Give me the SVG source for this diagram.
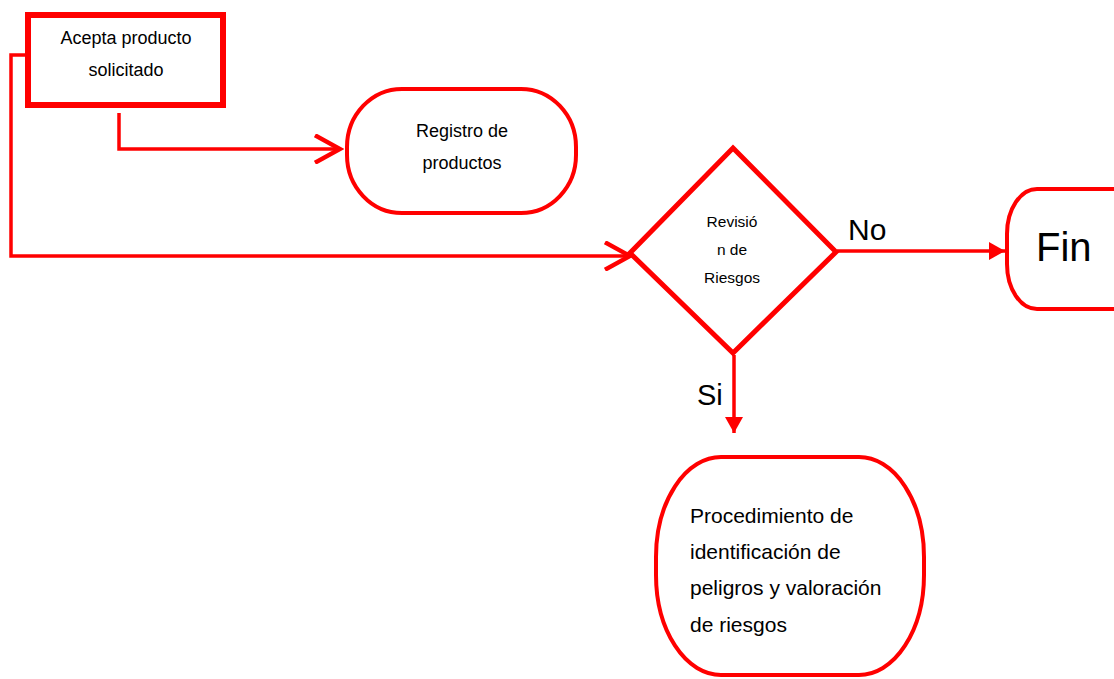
<svg xmlns="http://www.w3.org/2000/svg" width="1114" height="679" viewBox="0 0 1114 679">
<style>
.shape{fill:#fff;stroke:#ff0000}
.conn{fill:none;stroke:#ff0000;stroke-width:3.5}
.t{font-family:"Liberation Sans",Arial,sans-serif;fill:#000}
</style>
<defs>
<marker id="open" markerUnits="userSpaceOnUse" markerWidth="30" markerHeight="30" refX="21" refY="12" orient="auto" viewBox="0 0 24 24">
<path d="M1,1 L21,12 L1,23" fill="none" stroke="#ff0000" stroke-width="3.5"/>
</marker>
<marker id="fill" markerUnits="userSpaceOnUse" markerWidth="16" markerHeight="18" refX="16" refY="9" orient="auto" viewBox="0 0 16 18">
<path d="M0,0 L16,9 L0,18 Z" fill="#ff0000"/>
</marker>
</defs>
<rect width="1114" height="679" fill="#fff"/>
<g id="connectors">
<path class="conn" d="M25,55 H11 V256 H630" marker-end="url(#open)"/>
<path class="conn" d="M119,113 V149 H340" marker-end="url(#open)"/>
<path class="conn" d="M837,251 H1005" marker-end="url(#fill)"/>
<path class="conn" d="M734,355 V433" marker-end="url(#fill)"/>
<text class="t" x="848" y="240" font-size="30">No</text>
<text class="t" x="697" y="405" font-size="29">Si</text>
</g>
<g id="acepta">
<rect class="shape" x="28" y="15" width="195" height="90" stroke-width="6"/>
<text class="t" x="126" y="44" font-size="18" text-anchor="middle">Acepta producto</text>
<text class="t" x="126" y="76" font-size="18" text-anchor="middle">solicitado</text>
</g>
<g id="registro">
<rect class="shape" x="347" y="89" width="229" height="124" rx="55" ry="58" stroke-width="4"/>
<text class="t" x="462" y="137" font-size="18" text-anchor="middle">Registro de</text>
<text class="t" x="462" y="169" font-size="18" text-anchor="middle">productos</text>
</g>
<g id="revision">
<polygon class="shape" points="733,148 836,252 733,353 630,253" stroke-width="5"/>
<text class="t" x="732" y="227" font-size="15.5" text-anchor="middle">Revisió</text>
<text class="t" x="732" y="255" font-size="15.5" text-anchor="middle">n de</text>
<text class="t" x="732" y="283" font-size="15.5" text-anchor="middle">Riesgos</text>
</g>
<g id="fin">
<rect class="shape" x="1007" y="189" width="140" height="120" rx="30" ry="45" stroke-width="4"/>
<text class="t" x="1036" y="261" font-size="40">Fin</text>
</g>
<g id="procedimiento">
<rect class="shape" x="656" y="457" width="268" height="218" rx="65" ry="100" stroke-width="4"/>
<text class="t" x="690" y="523" font-size="21">Procedimiento de</text>
<text class="t" x="690" y="559" font-size="21">identificación de</text>
<text class="t" x="690" y="595" font-size="21">peligros y valoración</text>
<text class="t" x="690" y="632" font-size="21">de riesgos</text>
</g>
</svg>
